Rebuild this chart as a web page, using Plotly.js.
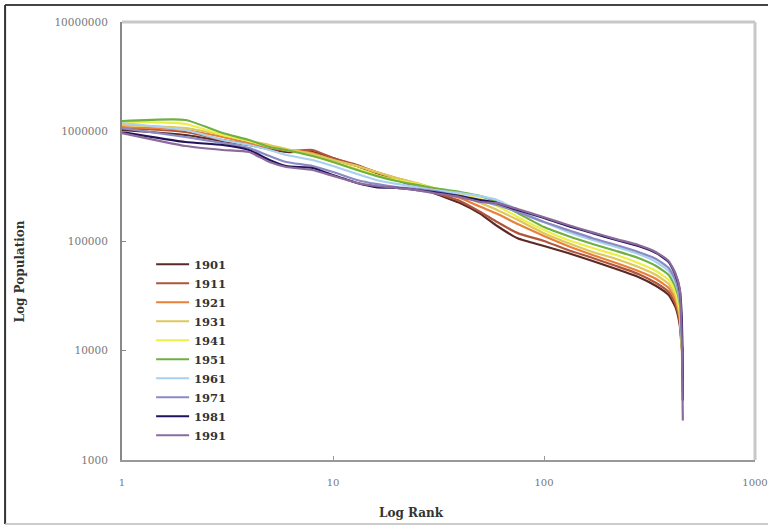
<!DOCTYPE html>
<html>
<head>
<meta charset="utf-8">
<script src="https://cdn.plot.ly/plotly-3.0.1.min.js"></script>
<style>
html,body{margin:0;padding:0;background:#fff;}
#chart{width:768px;height:526px;}
</style>
</head>
<body>
<div id="chart"></div>
<script>
// City rank (x, log axis)
const ranks = [1,2,3,4,5,6,8,10,13,16,20,25,30,40,50,60,75,100,130,170,220,280,340,390,420,440,450,455];

const years = ["1901","1911","1921","1931","1941","1951","1961","1971","1981","1991"];

// Population by rank for each census year
const pop1901 = [1032000,929000,818000,753000,692000,650000,650000,573000,484000,418000,361000,311000,274000,222000,177000,137000,106000,90000,77700,65700,55500,46900,38800,32100,24900,17100,10500,9700];
const pop1911 = [1076000,989000,836000,769000,707000,664000,678000,573000,494000,427000,368000,318000,280000,232000,184000,149000,118000,100000,82800,70000,59100,50000,41300,34200,26600,18200,11200,10100];
const pop1921 = [1099000,1032000,891000,785000,722000,678000,637000,549000,484000,427000,376000,332000,292000,247000,205000,177000,143000,111000,90000,74500,63000,53200,45000,37200,28900,19800,11200,9100];
const pop1931 = [1146000,1076000,929000,818000,753000,692000,623000,549000,484000,427000,376000,339000,305000,263000,222000,192000,156000,118000,95900,79400,68500,57900,48900,40500,31500,21100,10100,8200];
const pop1941 = [1222000,1171000,929000,818000,722000,678000,597000,526000,455000,401000,361000,332000,305000,274000,242000,209000,166000,126000,102000,86300,74500,63000,53200,44000,34200,23400,11200,6600];
const pop1951 = [1247000,1274000,968000,836000,722000,678000,597000,526000,445000,393000,353000,325000,305000,280000,257000,227000,180000,134000,111000,93900,81100,70000,59100,48900,38000,27100,12500,5400];
const pop1961 = [1196000,1032000,836000,753000,678000,610000,549000,484000,409000,361000,332000,311000,292000,274000,257000,237000,192000,149000,121000,102000,88100,76100,64300,53200,41300,28900,12500,4400];
const pop1971 = [1076000,891000,785000,707000,597000,526000,484000,427000,361000,332000,311000,298000,286000,257000,232000,213000,184000,149000,126000,106000,91900,79400,68500,56700,44000,30100,15400,5400];
const pop1981 = [989000,802000,753000,678000,549000,484000,464000,401000,339000,311000,305000,292000,280000,257000,237000,222000,192000,162000,137000,118000,102000,90000,77700,64300,48900,35700,19000,3500];
const pop1991 = [968000,737000,678000,650000,526000,474000,445000,393000,339000,318000,305000,292000,274000,252000,227000,222000,196000,165000,140000,120000,104000,92000,79000,65500,50500,36500,12500,2300];

const series = [pop1901,pop1911,pop1921,pop1931,pop1941,pop1951,pop1961,pop1971,pop1981,pop1991];
const colors = ["#5b2a26","#b0553a","#e8803a","#ddc85a","#eeee48","#6fb040","#a8d0f0","#8a8ac4","#22145a","#8c6a9c"];

const xTickVals = [1,10,100,1000];
const xTickText = ["1","10","100","1000"];
const yTickVals = [1000,10000,100000,1000000,10000000];
const yTickText = ["1000","10000","100000","1000000","10000000"];

const serif = "DejaVu Serif, Liberation Serif, serif";

const traces = series.map((ys,i)=>({
  type:"scatter", mode:"lines", name:years[i],
  x:ranks, y:ys,
  line:{color:colors[i], width:2.2, shape:"spline", smoothing:0.5}
}));

const layout = {
  width:768, height:526,
  margin:{l:122, r:13, t:22, b:66},
  paper_bgcolor:"#fff", plot_bgcolor:"#fff",
  showlegend:true,
  legend:{x:0.046, y:0.48, xanchor:"left", yanchor:"top", itemwidth:33,
          bgcolor:"rgba(0,0,0,0)", font:{family:serif, size:11.5, color:"#333", weight:"bold"},
          tracegroupgap:0},
  xaxis:{type:"log", range:[0,3], tickvals:xTickVals, ticktext:xTickText,
         showgrid:false, zeroline:false, showline:true, linecolor:"#999", linewidth:2,
         mirror:false, ticks:"inside", ticklen:4, tickcolor:"#999", ticklabeloverflow:"allow",
         tickfont:{family:serif, size:10, color:"#777"}, ticklabelstandoff:12},
  yaxis:{type:"log", range:[3,7], tickvals:yTickVals, ticktext:yTickText,
         showgrid:false, zeroline:false, showline:true, linecolor:"#888", linewidth:2,
         mirror:false, ticks:"inside", ticklen:4, tickcolor:"#888",
         tickfont:{family:serif, size:10.5, color:"#777"}, ticklabelstandoff:10},
  shapes:[
    {type:"line", xref:"paper", yref:"paper", x0:-0.1847, x1:1.03, y0:1.0388, y1:1.0388, line:{color:"#444", width:2}},
    {type:"line", xref:"paper", yref:"paper", x0:-0.1847, x1:-0.1847, y0:-0.1461, y1:1.0388, line:{color:"#333", width:2}},
    {type:"line", xref:"paper", yref:"paper", x0:-0.1847, x1:1.03, y0:-0.1461, y1:-0.1461, line:{color:"#bbb", width:1.5}},
    {type:"line", xref:"paper", yref:"paper", x0:0, x1:1, y0:1, y1:1, line:{color:"#c8c8c8", width:3}},
    {type:"line", xref:"paper", yref:"paper", x0:1, x1:1, y0:0, y1:1, line:{color:"#c8c8c8", width:3}}
  ],
  annotations:[
    {text:"<b>Log Rank</b>", xref:"paper", yref:"paper", x:0.458, y:-0.121, showarrow:false,
     xanchor:"center", yanchor:"middle", font:{family:serif, size:12, color:"#333"}},
    {text:"<b>Log Population</b>", xref:"paper", yref:"paper", x:-0.1615, y:0.43, showarrow:false,
     textangle:-90, xanchor:"center", yanchor:"middle", font:{family:serif, size:12, color:"#333"}}
  ]
};

Plotly.newPlot("chart", traces, layout, {displayModeBar:false, staticPlot:true});
</script>
</body>
</html>
